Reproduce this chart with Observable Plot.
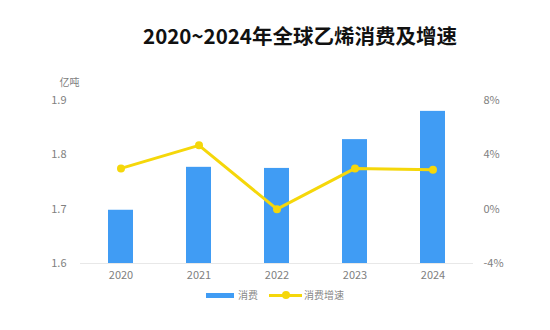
<!DOCTYPE html>
<html>
<head>
<meta charset="utf-8">
<script src="https://cdn.jsdelivr.net/npm/d3@7"></script>
<script src="https://cdn.jsdelivr.net/npm/@observablehq/plot@0.6"></script>
<style>
  body { margin: 0; background: #fff; font-family: "Noto Sans CJK SC", sans-serif; }
  #wrap { width: 550px; height: 330px; position: relative; overflow: hidden; }
  #title { height: 28px; padding-top: 22px; line-height: 26px; font-size: 20.5px; font-weight: bold; color: #111; text-align: center; padding-left: 50px; box-sizing: content-box; }
  #legend { height: 20px; line-height: 20px; display: flex; justify-content: center; align-items: center; font-size: 10px; color: #888; }
  .sw-bar { width: 28px; height: 5px; background: #409cf4; margin-right: 4px; }
  .sw-line { width: 33px; height: 3px; background: #f5d70a; position: relative; margin-left: 11px; margin-right: 2px; }
  .sw-line::after { content: ""; position: absolute; left: 13px; top: -2.5px; width: 8px; height: 8px; border-radius: 50%; background: #f5d70a; }
</style>
</head>
<body>
<div id="wrap">
  <div id="title">2020~2024年全球乙烯消费及增速</div>
  <div id="chart"></div>
  <div id="legend"><span class="sw-bar"></span><span>消费</span><span class="sw-line"></span><span>消费增速</span></div>
</div>
<script>
const years = ["2020", "2021", "2022", "2023", "2024"];
const consumption = [1.698, 1.777, 1.775, 1.828, 1.880]; // 亿吨
const growth = [3.0, 4.7, 0.0, 3.0, 2.9]; // %
const leftTicks = [1.6, 1.7, 1.8, 1.9];
const rightTicks = [-4, 0, 4, 8];

const pct = d3.scaleLinear([-4, 8], [1.6, 1.9]);
const data = years.map((y, i) => ({year: y, c: consumption[i], g: growth[i]}));

const blue = "#409cf4";
const yellow = "#f5d70a";

const chart = Plot.plot({
  width: 550,
  height: 235,
  marginTop: 50,
  marginBottom: 22,
  marginLeft: 80,
  marginRight: 77,
  style: {fontFamily: '"Noto Sans CJK SC", sans-serif', fontSize: "11px", color: "#808080", background: "transparent"},
  x: {domain: years, paddingInner: 0.68, paddingOuter: 0.34, label: null},
  y: {domain: [1.6, 1.9], label: null},
  marks: [
    Plot.ruleY([1.6], {stroke: "#e8e8e8"}),
    Plot.barY(data, {x: "year", y1: 1.6, y2: "c", fill: blue}),
    Plot.line(data, {x: "year", y: d => pct(d.g), stroke: yellow, strokeWidth: 3}),
    Plot.dot(data, {x: "year", y: d => pct(d.g), fill: yellow, r: 4}),
    Plot.axisX({tickSize: 0, tickPadding: 8, label: null}),
    Plot.axisY(leftTicks, {anchor: "left", tickSize: 0, tickPadding: 14, tickFormat: d3.format(".1f"), label: null}),
    Plot.axisY(rightTicks.map(pct), {anchor: "right", tickSize: 0, tickPadding: 10, tickFormat: d => Math.round(pct.invert(d)) + "%", label: null}),
    Plot.text(["亿吨"], {frameAnchor: "top-left", dx: -21, dy: -22, fontSize: 10, fill: "#808080"})
  ]
});
document.getElementById("chart").appendChild(chart);
</script>
</body>
</html>
